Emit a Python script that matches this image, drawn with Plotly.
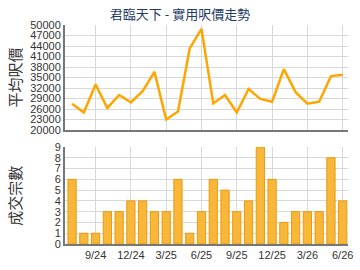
import plotly.graph_objects as go

months = ["7/24","8/24","9/24","10/24","11/24","12/24","1/25","2/25","3/25","4/25","5/25","6/25",
          "7/25","8/25","9/25","10/25","11/25","12/25","1/26","2/26","3/26","4/26","5/26","6/26"]
price = [27500, 25000, 33000, 26300, 30000, 27900, 31100, 36600, 23000, 25300, 43300, 48900,
         27600, 30000, 25000, 31700, 28900, 28100, 37400, 30800, 27500, 28100, 35400, 35800]
deals = [6, 1, 1, 3, 3, 4, 4, 3, 3, 6, 1, 3, 6, 5, 3, 4, 9, 6, 2, 3, 3, 3, 8, 4]
tick_labels = ["9/24","12/24","3/25","6/25","9/25","12/25","3/26","6/26"]
title = "君臨天下 - 實用呎價走勢"

xs = list(range(len(months)))
tickvals = [months.index(t) for t in tick_labels]

fig = go.Figure()
fig.add_trace(go.Scatter(x=xs, y=price, mode="lines", line=dict(color="#FFA500", width=2.5),
                         xaxis="x", yaxis="y", showlegend=False))
fig.add_trace(go.Bar(x=xs, y=deals, width=0.7,
                     marker=dict(color="#F9B73A", line=dict(color="#E89A10", width=1)),
                     xaxis="x2", yaxis="y2", showlegend=False))

font_tick = dict(family="Liberation Sans, Arial", size=11, color="#333")
xr = [-0.6, 23.45]
common_x = dict(range=xr, tickvals=tickvals, showgrid=True, gridcolor="#d8d8d8", gridwidth=1,
                showline=True, linecolor="#777", linewidth=2, zeroline=False, ticks="")
fig.update_layout(
    width=360, height=270,
    margin=dict(l=65, r=7, t=25, b=26),
    paper_bgcolor="white", plot_bgcolor="white",
    title=dict(text=title, x=0.5, xanchor="center", y=1-14/270, yanchor="middle", yref="container",
               font=dict(family="Noto Sans CJK TC", size=13, color="#1f3b66")),
    xaxis=dict(domain=[0, 1], anchor="y", showticklabels=False, ticktext=tick_labels, **common_x),
    yaxis=dict(domain=[0.5205, 1], range=[20000, 50000], dtick=3000, tick0=20000, tickformat="d",
               showgrid=True, gridcolor="#d8d8d8", showline=True, linecolor="#777", linewidth=2,
               zeroline=False, tickfont=font_tick, ticks=""),
    xaxis2=dict(domain=[0, 1], anchor="y2", ticktext=tick_labels, tickfont=font_tick, **common_x),
    yaxis2=dict(domain=[0, 0.4429], range=[0, 9], dtick=1, showgrid=True, gridcolor="#d8d8d8",
                showline=True, linecolor="#777", linewidth=2, zeroline=False, tickfont=font_tick,
                ticks=""),
    bargap=0.3,
)
fig.add_annotation(text="平均呎價", xref="paper", yref="paper", x=(14-65)/288, y=0.76,
                   textangle=-90, showarrow=False, xanchor="center", yanchor="middle",
                   font=dict(family="Noto Sans CJK TC", size=15, color="#333"))
fig.add_annotation(text="成交宗數", xref="paper", yref="paper", x=(14-65)/288, y=0.22,
                   textangle=-90, showarrow=False, xanchor="center", yanchor="middle",
                   font=dict(family="Noto Sans CJK TC", size=15, color="#333"))
fig.write_html("out.html")
